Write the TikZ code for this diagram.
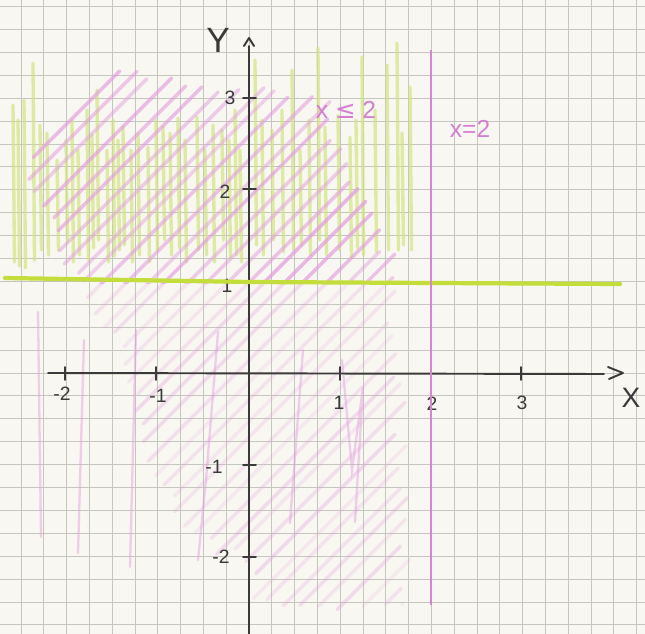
\documentclass[tikz,border=0pt]{standalone}
\usepackage{fontspec}
\setmainfont{Liberation Sans}
\newfontfamily\djv{DejaVu Sans}
\definecolor{paper}{HTML}{F8F7F1}
\definecolor{gridc}{HTML}{C6C6C0}
\definecolor{axisc}{HTML}{3B3A3A}
\definecolor{lime}{HTML}{C3DE3A}
\definecolor{limesoft}{HTML}{D2E47E}
\definecolor{pinkline}{HTML}{D784D2}
\definecolor{pinkhatch}{HTML}{E39BDF}
\definecolor{pinktext}{HTML}{D67FD2}
\tikzset{
  gridline/.style={gridc, line width=0.55pt},
  axisline/.style={axisc, line width=1.1pt, line cap=round, line join=round},
  greenstroke/.style={limesoft, line width=1.9pt, line cap=round, opacity=0.68},
  greenline/.style={lime, line width=2.4pt, line cap=round},
  pinkx/.style={pinkline, line width=1.6pt},
  hatchline/.style={pinkhatch, line width=2.0pt, line cap=round},
  pinkvert/.style={pinkhatch, line width=1.3pt, line cap=round, opacity=0.45},
  numlabel/.style={axisc, font=\fontsize{11}{13}\selectfont, inner sep=0pt},
  pinklabel/.style={pinktext, font=\fontsize{14}{16}\selectfont, inner sep=0pt},
  declare function={
    hl(\c)=(\c<212) ? 22 : ((\c<277) ? 22+(\c-212)*0.3538 : ((\c<360) ? 45+(\c-277)*0.3614 :
      ((\c<435) ? 75+(\c-360)*0.4 : ((\c<530) ? 105+(\c-435)*0.2632 :
      ((\c<630) ? 130+(\c-530)*0.2 : ((\c<710) ? 150+(\c-630)*0.375 :
      ((\c<785) ? 180+(\c-710)*0.6 : ((\c<855) ? 225+(\c-785)*0.4286 :
      ((\c<926) ? 255+(\c-855)*0.7746 : 310+(\c-926)*1.0417)))))))));
    hr(\c)=(\c<278) ? 118+(\c-184)*0.8723 : ((\c<344) ? 200+(\c-278)*0.9091 :
      ((\c<425) ? 260+(\c-344)*0.8642 : ((\c<495) ? 330+(\c-425)*0.2143 :
      ((\c<565) ? 345+(\c-495)*0.2857 : ((\c<645) ? 365+(\c-565)*0.375 :
      ((\c<880) ? 395+(\c-645)*0.0638 : 410))))));
  }
}
\begin{document}
\begin{tikzpicture}[x=0.02cm,y=-0.02cm]
\useasboundingbox (0,0) rectangle (645,634);
\fill[paper] (0,0) rectangle (645,634);
% squared paper
\foreach \k in {-10,...,17} \draw[gridline] ({249+22.8*\k},0) -- ({249+22.8*\k},634);
\foreach \k in {-16,...,11} \draw[gridline] (0,{373+22.9*\k}) -- (645,{373+22.9*\k});
% green vertical hatching (y >= 1)
\foreach \x/\t/\b in {13/105/262, 18/120/266, 24/100/268, 33/63/260, 40/125/250, 47/133/255,
  57/160/250, 66/140/242, 72/120/262, 78/150/255, 87/110/260, 92/135/248, 97/90/240,
  107/150/262, 113/120/256, 118/140/250, 123/127/245, 131/150/262, 138/133/255,
  148/147/262, 156/120/250, 163/127/240, 170/133/255, 178/118/248, 185/140/262,
  197/117/250, 205/150/255, 213/125/262, 222/130/240, 229/140/258, 235/110/255,
  240/150/262, 255/60/245, 262/120/255, 272/130/240, 282/110/252, 292/70/250,
  300/150/245, 309/120/255, 318/48/240, 325/127/255, 338/115/250, 350/137/258,
  356/120/248, 362/57/255, 375/110/252, 387/65/250, 397/43/250, 402/133/245, 410/87/250}
  \draw[greenstroke] (\x,\t) -- ({\x+1.5},\b);
% pink diagonal hatching (x <= 2): strong above y = 1, faint below
\begin{scope}
  \clip (0,0) rectangle (645,284);
  \pgfmathsetseed{11}
  \foreach \c in {188,208,...,1020} {
    \pgfmathsetmacro\cc{\c+4*rand}
    \pgfmathsetmacro\xl{hl(\cc)+12*rnd}
    \pgfmathsetmacro\xr{hr(\cc)-12*rnd}
    \pgfmathsetmacro\op{0.40+0.35*rnd}
    \draw[hatchline, opacity=\op] (\xl,{\cc-\xl}) -- (\xr,{\cc-\xr});
  }
\end{scope}
\begin{scope}
  \clip (0,284) rectangle (645,634);
  \pgfmathsetseed{11}
  \foreach \c in {188,208,...,1020} {
    \pgfmathsetmacro\cc{\c+4*rand}
    \pgfmathsetmacro\xl{hl(\cc)+12*rnd}
    \pgfmathsetmacro\xr{hr(\cc)-12*rnd}
    \pgfmathsetmacro\op{0.14+0.2*rnd}
    \draw[hatchline, opacity=\op] (\xl,{\cc-\xl}) -- (\xr,{\cc-\xr});
  }
\end{scope}
% pink vertical strokes in the lower part
\draw[pinkvert] (38,312) -- (41,537);
\draw[pinkvert] (84,340) -- (78,553);
\draw[pinkvert] (136,330) -- (130,567);
\draw[pinkvert] (218,332) -- (206,480) -- (198,560);
\draw[pinkvert] (303,350) -- (290,523);
\draw[pinkvert] (342,360) -- (352,470) -- (363,387) -- (355,522);
% axes
\draw[axisline] (48,373) -- (604,374);
\draw[axisline] (608,367) -- (623,373) -- (609,379);
\draw[axisline] (249,634) -- (249,46);
\draw[axisline] (244,46) -- (249,38) -- (254,46);
\foreach \x in {65,156,340,431,521} \draw[axisline] (\x,367) -- (\x,380);
\foreach \y in {98,189,283,465,557} \draw[axisline] (243,\y) -- (256,\y);
% axis labels
\node[numlabel] (xm2) at (62,394) {-2};
\node[numlabel] (xm1) at (158,396) {-1};
\node[numlabel] (x1) at (339,403) {1};
\node[numlabel] (x2) at (432,404) {2};
\node[numlabel] (x3) at (522,403) {3};
\node[numlabel] (y3) at (230,98) {3};
\node[numlabel] (y2) at (225,192) {2};
\node[numlabel] (y1) at (227,286) {1};
\node[numlabel] (ym1) at (214,467) {-1};
\node[numlabel] (ym2) at (221,557) {-2};
\node[axisc, font=\fontsize{20}{22}\selectfont, inner sep=0pt] (ylab) at (218,40) {Y};
\node[axisc, font=\fontsize{16}{18}\selectfont, inner sep=0pt] (xlab) at (631,398) {X};
% boundary lines
\draw[greenline] (5,278) -- (250,282) -- (620,284);
\draw[pinkx] (431,50) -- (431,605);
% pink labels
\node[pinklabel] (ineq) at (346,110) {x {\djv≤} 2};
\node[pinklabel] (eq) at (470,129) {x=2};
\end{tikzpicture}
\end{document}
